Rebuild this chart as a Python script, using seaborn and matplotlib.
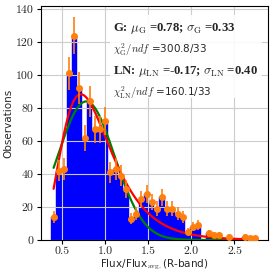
import numpy as np
import pandas as pd
import matplotlib
matplotlib.use("Agg")
import matplotlib.pyplot as plt
from matplotlib.patches import FancyBboxPatch
import seaborn as sns

# ---- data ----
bin_centers = [0.403, 0.463, 0.523, 0.583, 0.643, 0.703, 0.762, 0.822, 0.882, 0.942,
               1.002, 1.062, 1.122, 1.182, 1.242, 1.302, 1.361, 1.421, 1.481, 1.541,
               1.601, 1.661, 1.721, 1.781, 1.841, 1.901, 1.960, 2.020, 2.080, 2.140,
               2.200, 2.260, 2.320, 2.380, 2.440, 2.500, 2.559, 2.619, 2.679, 2.739]
counts = [14, 42, 43, 101, 124, 92, 62, 84, 67, 67,
          72, 41, 43, 39, 31, 13, 16, 25, 28, 23,
          19, 26, 19, 19, 16, 14, 5, 8, 9, 0,
          4, 3, 3, 0, 2, 0, 0, 2, 1, 1]
bin_width = 0.0599

mu_g, sigma_g, area_g = 0.78, 0.33, 69.5
mu_ln, sigma_ln, area_ln = -0.17, 0.40, 69.0

legend_lines = [
    r"G: $\mu_{\rm G}$ =0.78; $\sigma_{\rm G}$ =0.33",
    r"$\chi^2_{\rm G}/ndf$ =300.8/33",
    r"LN: $\mu_{\rm LN}$ =-0.17; $\sigma_{\rm LN}$ =0.40",
    r"$\chi^2_{\rm LN}/ndf$ =160.1/33",
]

sns.set_style("whitegrid")
plt.rcParams["font.family"] = ["DejaVu Sans"]
plt.rcParams["mathtext.fontset"] = "custom"
plt.rcParams["mathtext.rm"] = "cmr10"
plt.rcParams["mathtext.it"] = "cmmi10"
plt.rcParams["mathtext.bf"] = "Liberation Serif:bold"
plt.rcParams["mathtext.cal"] = "cmsy10"
plt.rcParams["axes.unicode_minus"] = False

fig = plt.figure(figsize=(2.74, 2.73), dpi=100)
ax = fig.add_axes([0.1485, 0.121, 0.8295, 0.857])

df = pd.DataFrame({"x": bin_centers, "n": counts})
lo = bin_centers[0] - bin_width / 2
hi = bin_centers[-1] + bin_width / 2
sns.histplot(data=df, x="x", weights="n", binwidth=bin_width, binrange=(lo, hi),
             color="blue", alpha=1.0, edgecolor="blue", linewidth=0.3, ax=ax)

xs = np.linspace(bin_centers[0], bin_centers[-1], 400)
g = area_g / (sigma_g * np.sqrt(2 * np.pi)) * np.exp(-(xs - mu_g) ** 2 / (2 * sigma_g ** 2))
ln = area_ln / (xs * sigma_ln * np.sqrt(2 * np.pi)) * np.exp(-(np.log(xs) - mu_ln) ** 2 / (2 * sigma_ln ** 2))
sns.lineplot(x=xs, y=g, color="green", linewidth=1.6, ax=ax, zorder=3)
sns.lineplot(x=xs, y=ln, color="red", linewidth=1.6, ax=ax, zorder=3)

nz = df[df.n > 0]
ax.errorbar(nz.x, nz.n, yerr=np.sqrt(nz.n), fmt="o", color="#ff7f0e", ecolor="#ff7f0e",
            markersize=4, elinewidth=1.2, capsize=0, zorder=4)

ax.set_axisbelow("line")
ax.grid(True, color="#cccccc", linewidth=0.8)
for s in ax.spines.values():
    s.set_color("black")
    s.set_linewidth(0.8)
ax.tick_params(axis="both", which="major", direction="out", length=3, width=0.8,
               color="black", labelsize=8.5, pad=2, left=True, bottom=True)
ax.set_xticks([0.5, 1.0, 1.5, 2.0, 2.5])
ax.set_yticks([0, 20, 40, 60, 80, 100, 120, 140])
for lab in ax.get_xticklabels() + ax.get_yticklabels():
    lab.set_family("cmr10")
ax.set_xlabel(r"Flux/Flux$_{\rm avg.}$(R-band)", fontsize=7.5, labelpad=1)
ax.set_ylabel("Observations", fontsize=7.5, labelpad=2)

# text box
box = FancyBboxPatch((0.305, 0.607), 0.668, 0.355, boxstyle="round,pad=0,rounding_size=0.02",
                     transform=ax.transAxes, facecolor="white", edgecolor="none",
                     alpha=0.9, zorder=5)
ax.add_patch(box)
ys = [0.902, 0.812, 0.722, 0.632]
for i, (s_, y_) in enumerate(zip(legend_lines, ys)):
    if i % 2 == 0:
        ax.text(0.318, y_, s_, transform=ax.transAxes, fontsize=9.2, va="center", ha="left",
                family="Liberation Serif", weight="bold", zorder=6)
    else:
        ax.text(0.318, y_, s_, transform=ax.transAxes, fontsize=7.5, va="center", ha="left",
                zorder=6)

fig.savefig("out.png", dpi=100)
